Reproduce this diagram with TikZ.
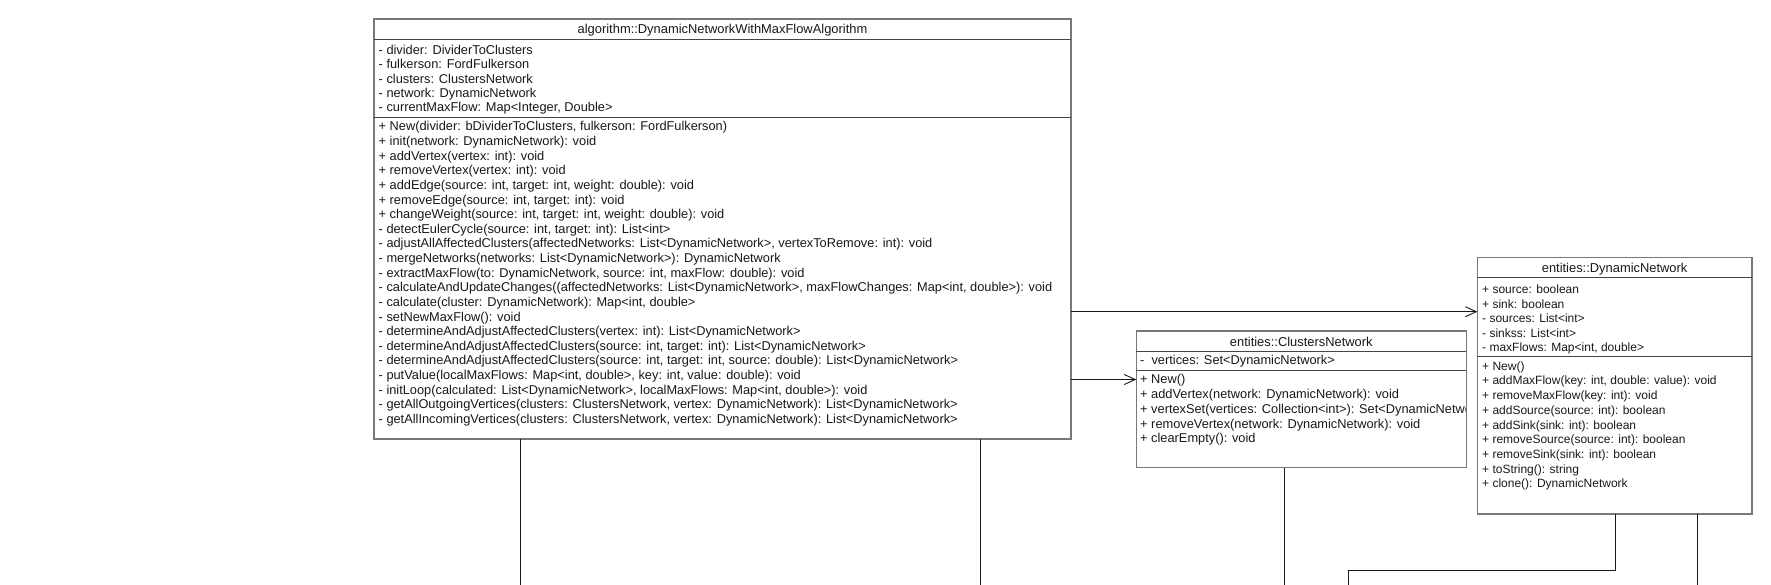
\documentclass[tikz,border=0pt]{standalone}
\usepackage{fontspec}
\setmainfont{Liberation Sans}
\usetikzlibrary{arrows.meta}
\definecolor{boxline}{RGB}{120,120,120}
\definecolor{sepline}{RGB}{70,70,70}
\definecolor{txt}{RGB}{25,25,25}
\begin{document}
\begin{tikzpicture}[x=1pt,y=-1pt,
  umlbox/.style={draw=boxline, line width=1.5pt, fill=white, inner sep=0pt, outer sep=0pt, anchor=north west},
  sepl/.style={draw=sepline, line width=0.9pt},
  row/.style={anchor=west, inner sep=0pt, font=\fontsize{12}{14}\selectfont, text=txt},
  rowb/.style={row, font=\fontsize{12.8}{14}\selectfont},
  ttl/.style={anchor=center, inner sep=0pt, font=\fontsize{12.9}{14}\selectfont, text=txt},
  link/.style={draw=black!90, line width=0.9pt},
  assoc/.style={link, -{Straight Barb[length=11pt, width=10pt, line width=0.9pt]}}
]
\useasboundingbox (0,0) rectangle (1771,585);
\fill[white] (0,0) rectangle (1771,585);

% ---------- main class ----------
\node[umlbox, minimum width=697pt, minimum height=420pt] (main) at (374,19) {};
\draw[sepl] (374,39.5) -- (1071,39.5);
\draw[sepl] (374,117.5) -- (1071,117.5);
\node[ttl] (mainT) at (722.5,30.5) {algorithm::DynamicNetworkWithMaxFlowAlgorithm};
\foreach \t [count=\i from 0] in {
  {- divider: DividerToClusters},
  {- fulkerson: FordFulkerson},
  {- clusters: ClustersNetwork},
  {- network: DynamicNetwork},
  {- currentMaxFlow: Map<Integer, Double>}}
  \node[rowb] (ma\i) at (378.5,49.7+14.68*\i) {\t};
\foreach \t [count=\i from 0] in {
  {+ New(divider: bDividerToClusters, fulkerson: FordFulkerson)},
  {+ init(network: DynamicNetwork): void},
  {+ addVertex(vertex: int): void},
  {+ removeVertex(vertex: int): void},
  {+ addEdge(source: int, target: int, weight: double): void},
  {+ removeEdge(source: int, target: int): void},
  {+ changeWeight(source: int, target: int, weight: double): void},
  {- detectEulerCycle(source: int, target: int): List<int>},
  {- adjustAllAffectedClusters(affectedNetworks: List<DynamicNetwork>, vertexToRemove: int): void},
  {- mergeNetworks(networks: List<DynamicNetwork>): DynamicNetwork},
  {- extractMaxFlow(to: DynamicNetwork, source: int, maxFlow: double): void},
  {- calculateAndUpdateChanges((affectedNetworks: List<DynamicNetwork>, maxFlowChanges: Map<int, double>): void},
  {- calculate(cluster: DynamicNetwork): Map<int, double>},
  {- setNewMaxFlow(): void},
  {- determineAndAdjustAffectedClusters(vertex: int): List<DynamicNetwork>},
  {- determineAndAdjustAffectedClusters(source: int, target: int): List<DynamicNetwork>},
  {- determineAndAdjustAffectedClusters(source: int, target: int, source: double): List<DynamicNetwork>},
  {- putValue(localMaxFlows: Map<int, double>, key: int, value: double): void},
  {- initLoop(calculated: List<DynamicNetwork>, localMaxFlows: Map<int, double>): void},
  {- getAllOutgoingVertices(clusters: ClustersNetwork, vertex: DynamicNetwork): List<DynamicNetwork>},
  {- getAllIncomingVertices(clusters: ClustersNetwork, vertex: DynamicNetwork): List<DynamicNetwork>}}
  \node[rowb] (mm\i) at (378.5,127.6+14.63*\i) {\t};

% ---------- ClustersNetwork ----------
\node[umlbox, minimum width=330pt, minimum height=136.6pt] (cl) at (1136.3,331) {};
\draw[sepl] (1136.3,351.3) -- (1466.3,351.3);
\draw[sepl] (1136.3,370.5) -- (1466.3,370.5);
\node[ttl] (clT) at (1301.3,342) {entities::ClustersNetwork};
\begin{scope}
\clip (1136.3,331) rectangle (1465.5,467.6);
\node[rowb] (ca0) at (1140,361.4) {-\ \ vertices: Set<DynamicNetwork>};
\foreach \t [count=\i from 0] in {
  {+ New()},
  {+ addVertex(network: DynamicNetwork): void},
  {+ vertexSet(vertices: Collection<int>): Set<DynamicNetwork>},
  {+ removeVertex(network: DynamicNetwork): void},
  {+ clearEmpty(): void}}
  \node[rowb] (cm\i) at (1140,380.6+14.7*\i) {\t};
\end{scope}

% ---------- DynamicNetwork ----------
\node[umlbox, minimum width=274.5pt, minimum height=256.4pt] (dn) at (1477.4,257.5) {};
\draw[sepl] (1477.4,277.9) -- (1751.9,277.9);
\draw[sepl] (1477.4,356.9) -- (1751.9,356.9);
\node[ttl] (dnT) at (1614.6,268.8) {entities::DynamicNetwork};
\foreach \t [count=\i from 0] in {
  {+ source: boolean},
  {+ sink: boolean},
  {- sources: List<int>},
  {- sinkss: List<int>},
  {- maxFlows: Map<int, double>}}
  \node[row] (da\i) at (1482,289.2+14.7*\i) {\t};
\foreach \t [count=\i from 0] in {
  {+ New()},
  {+ addMaxFlow(key: int, double: value): void},
  {+ removeMaxFlow(key: int): void},
  {+ addSource(source: int): boolean},
  {+ addSink(sink: int): boolean},
  {+ removeSource(source: int): boolean},
  {+ removeSink(sink: int): boolean},
  {+ toString(): string},
  {+ clone(): DynamicNetwork}}
  \node[row] (dm\i) at (1482,367.1+14.7*\i) {\t};

% ---------- connectors ----------
\coordinate (a1) at (1071,311.7);
\coordinate (a2) at (1071,379.5);
\draw[assoc] (a1) -- (a1 -| dn.west);
\draw[assoc] (a2) -- (a2 -| cl.west);

\coordinate (b1) at (520.7,585);
\coordinate (b2) at (980.4,585);
\draw[link] (main.south -| b1) -- (b1);
\draw[link] (main.south -| b2) -- (b2);

\coordinate (c1) at (1284,585);
\draw[link] (cl.south -| c1) -- (c1);

\coordinate (d1) at (1615,570);
\coordinate (d2) at (1348,585);
\draw[link] (dn.south -| d1) -- (d1) -| (d2);

\coordinate (e1) at (1697,585);
\draw[link] (dn.south -| e1) -- (e1);
\end{tikzpicture}
\end{document}
